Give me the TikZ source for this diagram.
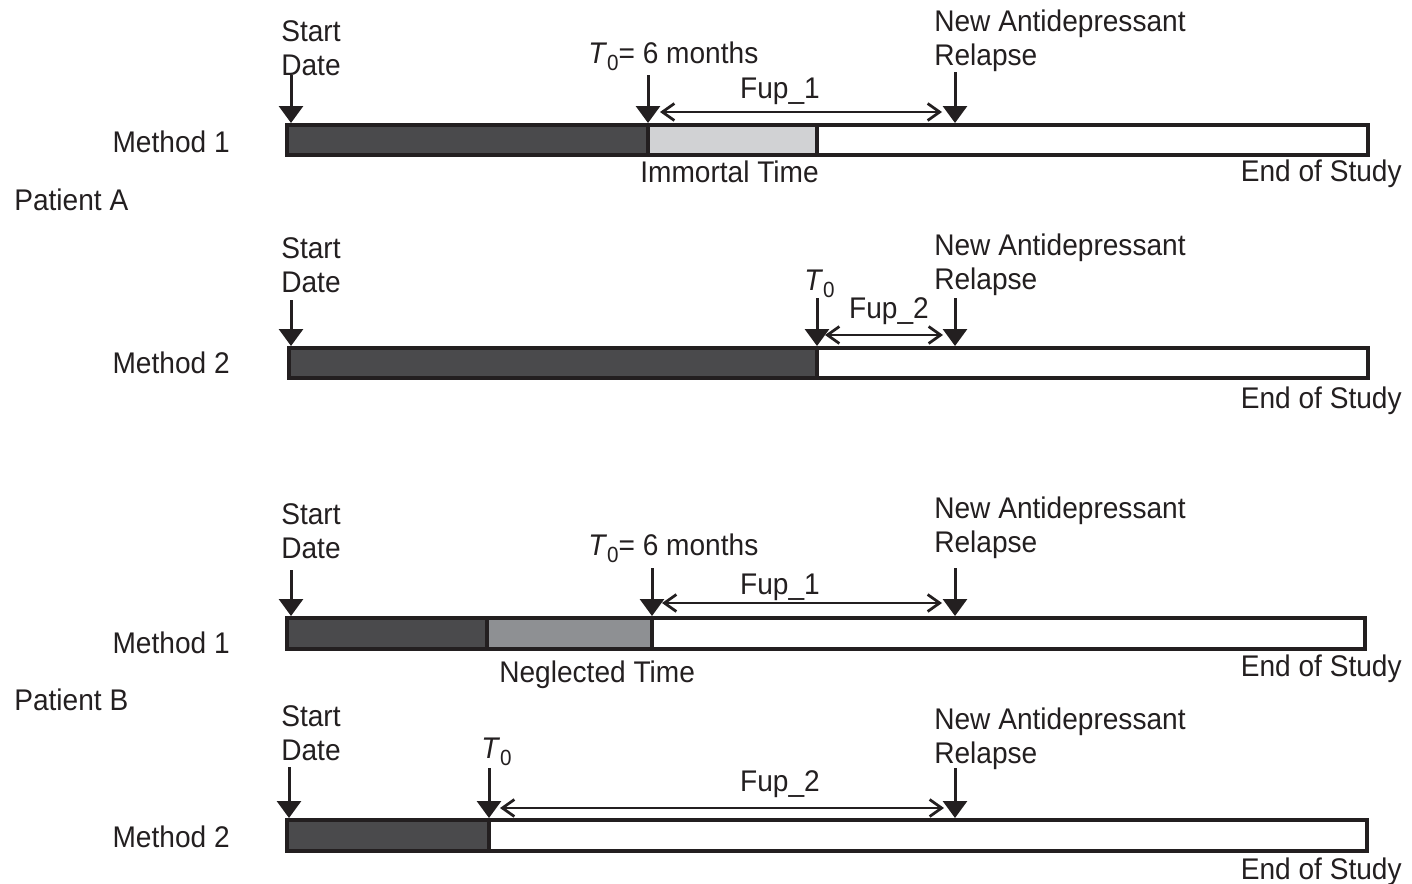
\documentclass[tikz,border=0pt]{standalone}
\usepackage{fontspec}
\setmainfont{Liberation Sans}[FakeStretch=0.94]
\usepackage{tikz}
\usetikzlibrary{arrows.meta,positioning}
\definecolor{barink}{RGB}{35,31,32}
\definecolor{bardark}{RGB}{74,74,76}
\definecolor{immortalgray}{RGB}{209,210,212}
\definecolor{neglectgray}{RGB}{142,144,147}
\newcommand{\Tzero}{\textit{T}\raisebox{-4.5pt}{\fontsize{12.5}{13}\selectfont 0}}
\tikzset{
    lbl/.style={inner sep=0pt, text=barink, font=\fontsize{17}{19}\selectfont},
    twoline/.style={lbl, align=left},
    seg/.style={draw=barink, line width=0.08cm},
    downarrow/.style={draw=barink, line width=0.06cm, -{Triangle[width=0.48cm, length=0.34cm]}},
    span/.style={draw=barink, line width=0.055cm, {Straight Barb[width=0.34cm, length=0.24cm]}-{Straight Barb[width=0.34cm, length=0.24cm]}}
}

\begin{document}
\begin{tikzpicture}[x=0.02cm, y=-0.02cm]
    \useasboundingbox (0,0) rectangle (1412,883);

    % Patient labels
    \node[lbl, anchor=base west] (patA) at (14,210) {Patient A};
    \node[lbl, anchor=base west] (patB) at (14,710) {Patient B};

    % Patient A, Method 1
    \draw[seg, fill=bardark] (287,125) rectangle (648,155);
    \draw[seg, fill=immortalgray] (648,125) rectangle (817,155);
    \draw[seg] (817,125) rectangle (1368,155);
    \node[lbl, anchor=base east] (methA1) at (230,152) {Method 1};
    \node[twoline, anchor=base west] (startA1) at (281,75) {Start\\Date};
    \node[lbl, anchor=base west] (tzeroA1) at (588,63) {\Tzero= 6 months};
    \node[twoline, anchor=base west] (relapseA1) at (934,65) {New Antidepressant\\Relapse};
    \node[lbl, anchor=base] (fupA1) at (780,98) {Fup\_1};
    \node[lbl, anchor=base west] (immortal) at (640,182) {Immortal Time};
    \node[lbl, anchor=base east] (endA1) at (1402,181) {End of Study};
    \coordinate (sA1top) at (291,75);   \coordinate (sA1tip) at (291,123);
    \coordinate (tA1top) at (648,75);   \coordinate (tA1tip) at (648,123);
    \coordinate (rA1top) at (955,72);   \coordinate (rA1tip) at (955,123);
    \coordinate (fA1l) at (660,112);    \coordinate (fA1r) at (942,112);
    \draw[downarrow] (sA1top) -- (sA1tip);
    \draw[downarrow] (tA1top) -- (tA1tip);
    \draw[downarrow] (rA1top) -- (rA1tip);
    \draw[span] (fA1l) -- (fA1r);

    % Patient A, Method 2
    \draw[seg, fill=bardark] (289,348) rectangle (817,378);
    \draw[seg] (817,348) rectangle (1368,378);
    \node[lbl, anchor=base east] (methA2) at (230,373) {Method 2};
    \node[twoline, anchor=base west] (startA2) at (281,292) {Start\\Date};
    \node[lbl, anchor=base west] (tzeroA2) at (804,290) {\Tzero};
    \node[twoline, anchor=base west] (relapseA2) at (934,289) {New Antidepressant\\Relapse};
    \node[lbl, anchor=base] (fupA2) at (889,318) {Fup\_2};
    \node[lbl, anchor=base east] (endA2) at (1402,408) {End of Study};
    \coordinate (sA2top) at (291,300);  \coordinate (sA2tip) at (291,346);
    \coordinate (tA2top) at (817,298);  \coordinate (tA2tip) at (817,346);
    \coordinate (rA2top) at (955,298);  \coordinate (rA2tip) at (955,346);
    \coordinate (fA2l) at (825,335);    \coordinate (fA2r) at (943,335);
    \draw[downarrow] (sA2top) -- (sA2tip);
    \draw[downarrow] (tA2top) -- (tA2tip);
    \draw[downarrow] (rA2top) -- (rA2tip);
    \draw[span] (fA2l) -- (fA2r);

    % Patient B, Method 1
    \draw[seg, fill=bardark] (287,618) rectangle (487,649);
    \draw[seg, fill=neglectgray] (487,618) rectangle (652,649);
    \draw[seg] (652,618) rectangle (1365,649);
    \node[lbl, anchor=base east] (methB1) at (230,653) {Method 1};
    \node[twoline, anchor=base west] (startB1) at (281,558) {Start\\Date};
    \node[lbl, anchor=base west] (tzeroB1) at (588,555) {\Tzero= 6 months};
    \node[twoline, anchor=base west] (relapseB1) at (934,552) {New Antidepressant\\Relapse};
    \node[lbl, anchor=base] (fupB1) at (780,594) {Fup\_1};
    \node[lbl, anchor=base west] (neglected) at (499,682) {Neglected Time};
    \node[lbl, anchor=base east] (endB1) at (1402,676) {End of Study};
    \coordinate (sB1top) at (291,570);  \coordinate (sB1tip) at (291,616);
    \coordinate (tB1top) at (652,568);  \coordinate (tB1tip) at (652,616);
    \coordinate (rB1top) at (955,568);  \coordinate (rB1tip) at (955,616);
    \coordinate (fB1l) at (662,603);    \coordinate (fB1r) at (942,603);
    \draw[downarrow] (sB1top) -- (sB1tip);
    \draw[downarrow] (tB1top) -- (tB1tip);
    \draw[downarrow] (rB1top) -- (rB1tip);
    \draw[span] (fB1l) -- (fB1r);

    % Patient B, Method 2
    \draw[seg, fill=bardark] (287,820) rectangle (489,851);
    \draw[seg] (489,820) rectangle (1367,851);
    \node[lbl, anchor=base east] (methB2) at (230,847) {Method 2};
    \node[twoline, anchor=base west] (startB2) at (281,760) {Start\\Date};
    \node[lbl, anchor=base west] (tzeroB2) at (481,758) {\Tzero};
    \node[twoline, anchor=base west] (relapseB2) at (934,763) {New Antidepressant\\Relapse};
    \node[lbl, anchor=base] (fupB2) at (780,791) {Fup\_2};
    \node[lbl, anchor=base east] (endB2) at (1402,879) {End of Study};
    \coordinate (sB2top) at (289,767);  \coordinate (sB2tip) at (289,818);
    \coordinate (tB2top) at (489,768);  \coordinate (tB2tip) at (489,818);
    \coordinate (rB2top) at (955,768);  \coordinate (rB2tip) at (955,818);
    \coordinate (fB2l) at (500,808);    \coordinate (fB2r) at (944,808);
    \draw[downarrow] (sB2top) -- (sB2tip);
    \draw[downarrow] (tB2top) -- (tB2tip);
    \draw[downarrow] (rB2top) -- (rB2tip);
    \draw[span] (fB2l) -- (fB2r);
\end{tikzpicture}
\end{document}
